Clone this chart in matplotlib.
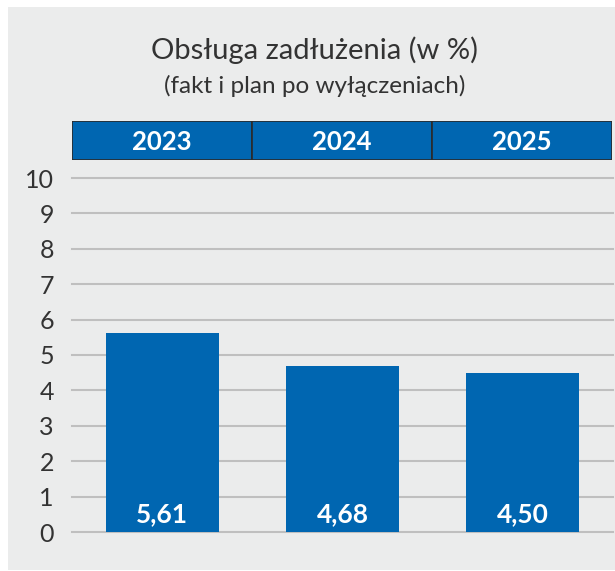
import matplotlib.pyplot as plt
from matplotlib.patches import Rectangle

lata = ["2023", "2024", "2025"]
obsluga = [5.61, 4.68, 4.50]
etykiety = ["5,61", "4,68", "4,50"]
yticks = list(range(0, 11))

NIEBIESKI = "#0066b1"
TLO = "#ebecec"
SIATKA = "#bfbfbf"
TEKST = "#333333"

plt.rcParams["font.family"] = ["Lato", "DejaVu Sans"]

W, H = 615, 571
fig = plt.figure(figsize=(W / 100, H / 100), dpi=100)
fig.patches.append(Rectangle((8 / W, 1 / H), 1, 563 / H, transform=fig.transFigure,
                             facecolor=TLO, edgecolor="none", zorder=-10))

# tytul
fig.text(0.512, 1 - 50 / H, "Obsługa zadłużenia (w %)", ha="center", va="center",
         fontsize=21, color=TEKST)
fig.text(0.512, 1 - 86 / H, "(fakt i plan po wyłączeniach)", ha="center", va="center",
         fontsize=17.5, color=TEKST)

x = list(range(len(lata)))

# wykres glowny
ax = fig.add_axes([72 / W, 39 / H, 541 / W, 354 / H])
ax.set_facecolor("none")
ax.bar(x, obsluga, width=0.625, color=NIEBIESKI, zorder=3)
for xi, lab in zip(x, etykiety):
    ax.text(xi, 0.5, lab, ha="center", va="center", color="white",
            fontsize=19, fontweight="bold", zorder=4)
ax.set_xlim(-0.5, len(lata) - 0.5)
ax.set_ylim(0, 10)
ax.set_yticks(yticks)
for t in yticks:
    ax.axhline(t, color=SIATKA, lw=1.5, zorder=1, clip_on=False)
ax.set_xticks([])
ax.tick_params(axis="y", length=0, labelsize=18, labelcolor=TEKST, pad=13)
for s in ax.spines.values():
    s.set_visible(False)

# naglowek z latami
hx = fig.add_axes([72 / W, 411 / H, 540 / W, 39 / H])
for xi, rok in zip(x, lata):
    hx.add_patch(Rectangle((xi - 0.5, 0), 1, 1, facecolor=NIEBIESKI,
                           edgecolor="#2b2b2b", lw=1.2))
    hx.text(xi, 0.45, rok, ha="center", va="center", color="white",
            fontsize=18.5, fontweight="bold")
hx.set_xlim(-0.5, len(lata) - 0.5)
hx.set_ylim(0, 1)
hx.axis("off")

fig.savefig("out.png", dpi=100)
